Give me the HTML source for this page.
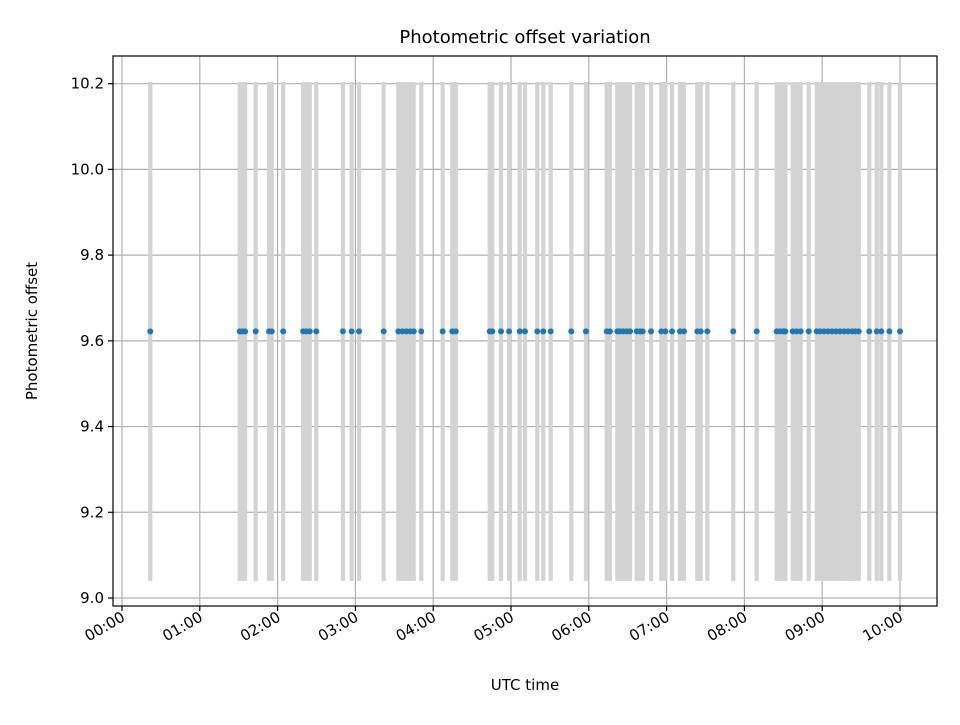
<!DOCTYPE html>
<html><head><meta charset="utf-8"><style>
body{margin:0;background:#fff;}
svg text{font-family:"DejaVu Sans","Liberation Sans",sans-serif;fill:#000;}
</style></head><body>
<svg id="chart" width="960" height="720" xmlns="http://www.w3.org/2000/svg">
<rect width="960" height="720" fill="#fff"/>
<g id="grid"></g><g id="bars"></g><g id="pts"></g><g id="axes"></g>
</svg>
<script>
const timesMin=[21.8,90.8,92.8,94.9,103.1,113.4,115.5,124.3,139.7,142.1,144.8,149.8,170.4,177.1,182.8,201.8,213.1,216.2,219.3,222.3,225,230.8,247.3,254.7,257.4,283.6,285.6,292.3,298.5,306.7,310.8,320.3,324.9,330.6,346.5,357.8,373.8,376.3,382,384,386.6,389.2,391.8,397,399.5,401.6,408,415.9,419,424.2,430.3,433.4,443.7,446.3,451.4,471.4,489.5,504.9,507.5,510,511.6,517.3,520.3,523.4,529.6,535.8,538.3,541.4,544.5,547.6,550.7,553.8,556.9,560,563.1,565.5,568.2,576.3,582.1,585.6,591.8,600];
const offsetValue=9.622;
const offsetErr=0.582;
const yTicks=[9.0,9.2,9.4,9.6,9.8,10.0,10.2];
const xTickHours=[0,1,2,3,4,5,6,7,8,9,10];
const NS="http://www.w3.org/2000/svg";
const L=113,R=937,T=56,B=606;
const xs=m=>122+m/60*77.8;
const ys=v=>598-(v-9.0)*428.6;
function mk(tag,attrs,parent){const e=document.createElementNS(NS,tag);for(const k in attrs)e.setAttribute(k,attrs[k]);parent.appendChild(e);return e;}
const grid=document.getElementById('grid'),bars=document.getElementById('bars'),pts=document.getElementById('pts'),axes=document.getElementById('axes');
xTickHours.forEach(h=>{const x=xs(h*60);
 const g=mk('line',{x1:x,x2:x,y1:T,y2:B,stroke:'#b0b0b0','stroke-width':1.2},grid);
 
 
 mk('line',{x1:x,x2:x,y1:B,y2:B+5,stroke:'#000','stroke-width':1.2},axes);
 const t=mk('text',{x:x+4,y:B+14,'font-size':15,'text-anchor':'end',transform:`rotate(-30 ${x+4} ${B+14})`},axes);
 t.textContent=String(h).padStart(2,'0')+':00';
 
 
});
yTicks.forEach(v=>{const y=ys(v);
 const g=mk('line',{x1:L,x2:R,y1:y,y2:y,stroke:'#b0b0b0','stroke-width':1.2},grid);
 
 
 mk('line',{x1:L-5,x2:L,y1:y,y2:y,stroke:'#000','stroke-width':1.2},axes);
 const t=mk('text',{x:L-9,y:y+5,'font-size':15,'text-anchor':'end'},axes);
 t.textContent=v.toFixed(1);
 
 
});
timesMin.forEach(m=>{const x=xs(m);
 const b=mk('line',{x1:x,x2:x,y1:ys(offsetValue-offsetErr),y2:ys(offsetValue+offsetErr),stroke:'#d3d3d3','stroke-width':4.2},bars);
 
 
});
timesMin.forEach(m=>{
 const c=mk('circle',{cx:xs(m),cy:ys(offsetValue),r:3,fill:'#1f77b4'},pts);
 
 
});
const fr=mk('rect',{x:L,y:T,width:R-L,height:B-T,fill:'none',stroke:'#000','stroke-width':1.2},axes);


const ti=mk('text',{x:(L+R)/2,y:43,'font-size':18,'text-anchor':'middle'},axes);
ti.textContent='Photometric offset variation';


const xl=mk('text',{x:525,y:690,'font-size':15,'text-anchor':'middle'},axes);
xl.textContent='UTC time';


const yl=mk('text',{x:37,y:331,'font-size':15,'text-anchor':'middle',transform:'rotate(-90 37 331)'},axes);
yl.textContent='Photometric offset';


</script>
</body></html>
